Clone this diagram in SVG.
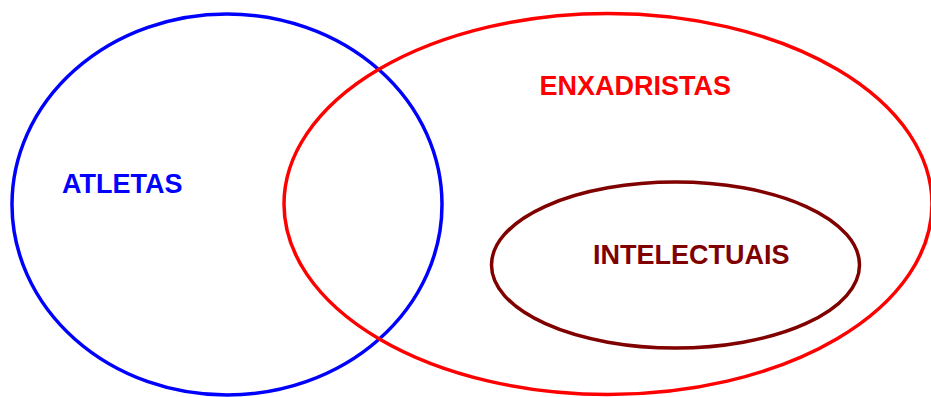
<svg xmlns="http://www.w3.org/2000/svg" width="931" height="397" viewBox="0 0 931 397">
<style>
.set{fill:none;stroke-width:3.5}
.lbl{font-family:"Liberation Sans",Arial,sans-serif;font-weight:bold;font-size:27px}
</style>
<rect width="931" height="397" fill="#fff"/>
<g id="atletas">
<ellipse class="set" cx="227" cy="204.5" rx="215" ry="190.5" stroke="#0000FF"/>
<text class="lbl" x="62" y="193" fill="#0000FF">ATLETAS</text>
</g>
<g id="enxadristas">
<ellipse class="set" cx="608" cy="204" rx="324" ry="190.5" stroke="#FF0000"/>
<text class="lbl" x="539.5" y="95" fill="#FF0000">ENXADRISTAS</text>
</g>
<g id="intelectuais">
<ellipse class="set" cx="675.5" cy="265" rx="184" ry="83" stroke="#800000"/>
<text class="lbl" x="593" y="264" fill="#800000">INTELECTUAIS</text>
</g>
<g id="connectors"/>
</svg>
